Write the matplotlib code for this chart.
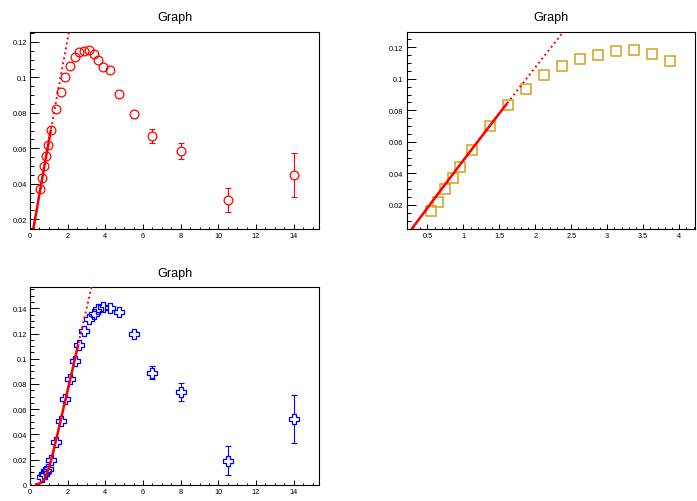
import numpy as np
import matplotlib
matplotlib.use('Agg')
import matplotlib.pyplot as plt
from matplotlib.path import Path
from matplotlib.ticker import MultipleLocator, FuncFormatter

plt.rcParams['font.family'] = ['Liberation Sans', 'DejaVu Sans']

# pT bins shared by the graphs
x_bins = [0.55, 0.65, 0.75, 0.85, 0.95, 1.125, 1.375, 1.625, 1.875, 2.125, 2.375,
          2.625, 2.875, 3.125, 3.375, 3.625, 3.875, 4.25, 4.75, 5.5, 6.5, 8, 10.5, 14]

# top left graph (red circles)
y_circle = [0.0368, 0.0432, 0.0499, 0.0558, 0.0616, 0.0701, 0.0820, 0.0919, 0.1002,
            0.1066, 0.1113, 0.1143, 0.1151, 0.1157, 0.1130, 0.1096, 0.1059, 0.1044,
            0.0904, 0.0791, 0.0669, 0.0584, 0.0309, 0.0450]
e_circle = [0, 0, 0, 0, 0, 0, 0, 0, 0, 0, 0, 0, 0, 0, 0, 0, 0, 0,
            0.0015, 0.002, 0.0039, 0.0047, 0.0070, 0.0122]
fit_circle = [0.00359, 0.0619, -0.00143]  # pol2

# top right graph (orange squares)
x_square = x_bins[:17]
y_square = [0.0160, 0.0221, 0.0300, 0.0370, 0.0439, 0.0550, 0.0702, 0.0833, 0.0933,
            0.1026, 0.1084, 0.1124, 0.1149, 0.1175, 0.1181, 0.1156, 0.1115]
fit_square = [-0.0127, 0.0620, -0.0010]  # pol2

# bottom left graph (blue open crosses)
x_cross = x_bins[1:]
y_cross = [0.0062, 0.0085, 0.0106, 0.0123, 0.0193, 0.0338, 0.0503, 0.0677, 0.0836,
           0.0979, 0.1111, 0.1223, 0.1313, 0.1352, 0.1392, 0.1408, 0.1400, 0.1368,
           0.1199, 0.0889, 0.0738, 0.0191, 0.0521]
e_cross = [0, 0, 0, 0, 0, 0, 0, 0, 0, 0, 0, 0, 0, 0, 0, 0, 0, 0,
           0.002, 0.0052, 0.0070, 0.0114, 0.0193]
fit_cross = [0.0647, 0.84, 0.15]  # slope, threshold, smoothing

W, H = 697, 502


def pol(p, x):
    return sum(c * x ** i for i, c in enumerate(p))


def turn_on(p, x):
    k, x0, s = p
    return k * s * np.log1p(np.exp((x - x0) / s))


def open_cross():
    w = 0.36
    verts = [(-w, 1), (w, 1), (w, w), (1, w), (1, -w), (w, -w), (w, -1), (-w, -1),
             (-w, -w), (-1, -w), (-1, w), (-w, w), (-w, 1)]
    return Path(verts, closed=True)


def make_axes(fig, left, top, right, bottom):
    ax = fig.add_axes([left / W, 1 - bottom / H, (right - left) / W, (bottom - top) / H])
    for sp in ax.spines.values():
        sp.set_linewidth(0.8)
        sp.set_color('black')
    ax.tick_params(which='both', direction='in', top=False, right=False,
                   labelsize=5.3, colors='black', width=0.7)
    ax.tick_params(axis='y', which='major', length=6.5, pad=2.4)
    ax.tick_params(axis='y', which='minor', length=3.2)
    ax.tick_params(axis='x', which='major', length=3.6, pad=2.2)
    ax.tick_params(axis='x', which='minor', length=1.8)
    fmt = FuncFormatter(lambda v, pos: '%g' % round(v, 6))
    ax.xaxis.set_major_formatter(fmt)
    ax.yaxis.set_major_formatter(fmt)
    fig.text((left + right) / 2 / W, 1 - (top - 14.7) / H, 'Graph',
             ha='center', va='center', fontsize=9.1)
    return ax


def draw_graph(ax, x, y, err, marker, color, size, mew):
    ax.errorbar(x, y, yerr=err, fmt='none', ecolor=color, elinewidth=0.8,
                capsize=2.2, capthick=0.8, zorder=2)
    ax.plot(x, y, linestyle='none', marker=marker, markersize=size,
            markerfacecolor='white', markeredgecolor='none', zorder=3)
    ax.plot(x, y, linestyle='none', marker=marker, markersize=size,
            markerfacecolor='none', markeredgecolor=color, markeredgewidth=mew, zorder=4)


def draw_fit(ax, func, p, lo, hi, xmax):
    xs = np.linspace(lo, hi, 200)
    xd = np.linspace(0, xmax, 600)
    ax.plot(xd, func(p, xd), color='red', lw=1.4, linestyle=(0, (1, 1.6)), zorder=5)
    ax.plot(xs, func(p, xs), color='red', lw=1.8, zorder=6)


fig = plt.figure(figsize=(W / 100, H / 100), dpi=100)
fig.patch.set_facecolor('white')

# top left
ax1 = make_axes(fig, 30, 33, 319, 230)
draw_graph(ax1, x_bins, y_circle, e_circle, 'o', 'red', 6.3, 0.9)
draw_fit(ax1, pol, fit_circle, 0.0, 1.1, 15.35)
ax1.set_xlim(0, 15.345)
ax1.set_ylim(0.0145, 0.1256)
ax1.xaxis.set_major_locator(MultipleLocator(2))
ax1.xaxis.set_minor_locator(MultipleLocator(0.5))
ax1.yaxis.set_major_locator(MultipleLocator(0.02))
ax1.yaxis.set_minor_locator(MultipleLocator(0.005))

# top right
ax2 = make_axes(fig, 406.7, 33, 695, 230)
draw_graph(ax2, x_square, y_square, [0] * len(y_square), 's', '#d5a01c', 6.6, 1.1)
draw_fit(ax2, pol, fit_square, 0.0, 1.6, 4.3)
ax2.set_xlim(0.2125, 4.22)
ax2.set_ylim(0.0047, 0.1297)
ax2.xaxis.set_major_locator(MultipleLocator(0.5))
ax2.xaxis.set_minor_locator(MultipleLocator(0.1))
ax2.yaxis.set_major_locator(MultipleLocator(0.02))
ax2.yaxis.set_minor_locator(MultipleLocator(0.005))

# bottom left
ax3 = make_axes(fig, 30, 288.3, 319, 485.7)
draw_graph(ax3, x_cross, y_cross, e_cross, open_cross(), 'blue', 7.6, 0.9)
draw_fit(ax3, turn_on, fit_cross, 0.35, 2.55, 15.35)
ax3.set_xlim(0, 15.345)
ax3.set_ylim(0, 0.1567)
ax3.xaxis.set_major_locator(MultipleLocator(2))
ax3.xaxis.set_minor_locator(MultipleLocator(0.5))
ax3.yaxis.set_major_locator(MultipleLocator(0.02))
ax3.yaxis.set_minor_locator(MultipleLocator(0.005))

fig.savefig('out.png', dpi=100, facecolor='white')
